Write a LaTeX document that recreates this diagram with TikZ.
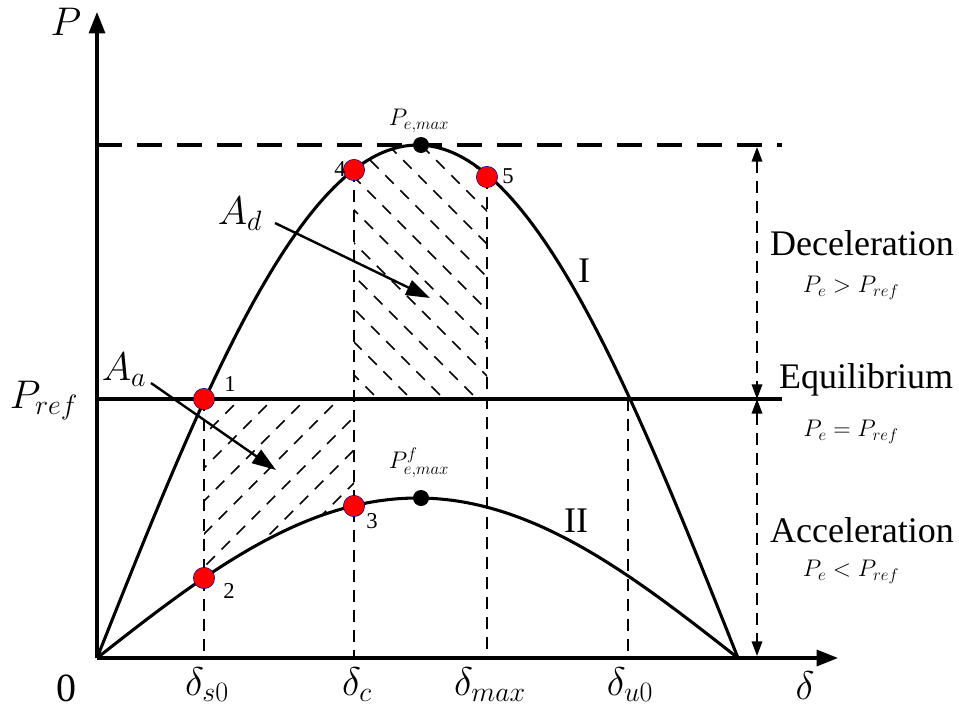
\RequirePackage{fix-cm}
\documentclass[tikz,border=0pt]{standalone}
\usepackage{fontspec}
\setmainfont{Liberation Serif}
\usetikzlibrary{arrows.meta}
\begin{document}
\begin{tikzpicture}[x=0.75pt,y=-0.75pt,
  curve/.style={line width=2.3pt},
  axisline/.style={line width=2.3pt,-{Triangle[length=16pt,width=12pt]}},
  vdash/.style={line width=1.1pt,dash pattern=on 9pt off 6pt},
  hatch/.style={line width=1.1pt,dash pattern=on 9pt off 7pt},
  topdash/.style={line width=2.4pt,dash pattern=on 19pt off 11pt},
  sidearrow/.style={line width=1.1pt,dash pattern=on 9pt off 6pt,{Triangle[length=11pt,width=8pt]}-{Triangle[length=11pt,width=8pt]}},
  pointer/.style={line width=1.8pt,-{Triangle[length=18pt,width=12pt]}},
  reddot/.style={circle,fill=red,draw=blue!50!black,line width=0.4pt,inner sep=0pt,minimum size=16pt},
  blackdot/.style={circle,fill=black,inner sep=0pt,minimum size=12pt},
  big/.style={font=\fontsize{30}{32}\selectfont,inner sep=0pt},
  small/.style={font=\fontsize{18}{20}\selectfont,inner sep=0pt},
  num/.style={font=\fontsize{17}{18}\selectfont,inner sep=0pt},
  word/.style={font=\fontsize{27}{30}\selectfont,inner sep=0pt}
]
\useasboundingbox (0,0) rectangle (959,710);

% coordinates
\coordinate (O) at (97,658);
\coordinate (Ytop) at (97,12);
\coordinate (Xend) at (838,658);
\coordinate (R0) at (97,399);
\coordinate (R1) at (782,399);
\coordinate (T0) at (97,145);
\coordinate (T1) at (782,145);

% hatching: deceleration area
\begin{scope}
  \clip (354,399) -- plot[domain=72.17:109.52,samples=40] ({97+3.5611*\x},{658-513*sin(\x)}) -- (487,399) -- cycle;
  \foreach \k in {-320,-287,...,520} {
    \draw[hatch] (\k,130) -- ++(300,300);
  }
\end{scope}
% hatching: acceleration area
\begin{scope}
  \clip (204,399) -- (354,399) -- plot[domain=72.17:30.05,samples=40] ({97+3.5611*\x},{658-160*sin(\x)}) -- cycle;
  \foreach \k in {-100,-67,...,500} {
    \draw[hatch] (\k,640) -- ++(300,-300);
  }
\end{scope}

% vertical dashed lines
\coordinate (Vs0) at (204,658);
\coordinate (Vc) at (354,658);
\coordinate (Vmax) at (487,658);
\coordinate (Vu0) at (628,658);
\coordinate (Vu0t) at (628,399);
\coordinate (Vs0t) at (204,399);
\coordinate (Vct) at (354,170);
\coordinate (Vmaxt) at (487,177);
\draw[vdash] (Vs0t) -- (Vs0);
\draw[vdash] (Vct) -- (Vc);
\draw[vdash] (Vmaxt) -- (Vmax);
\draw[vdash] (Vu0t) -- (Vu0);

% top dashed line
\draw[topdash] (T0) -- (T1);

% Pref line
\draw[curve] (R0) -- (R1);

% curves
\draw[curve] plot[domain=0:180,samples=120] ({97+3.5611*\x},{658-513*sin(\x)});
\draw[curve] plot[domain=0:180,samples=120] ({97+3.5611*\x},{658-160*sin(\x)});

% axes
\draw[axisline] (O) -- (Ytop);
\draw[axisline] (O) -- (Xend);

% right side arrows
\coordinate (S0) at (757,147);
\coordinate (S1) at (757,399);
\coordinate (S2) at (757,656);
\draw[sidearrow] (S0) -- (S1);
\draw[sidearrow] (S1) -- (S2);

% area labels and pointers
\node[big] (Ad) at (240,214) {$A_d$};
\node[big] (Aa) at (124,370) {$A_a$};
\coordinate (AdTail) at (275,223);
\coordinate (AdTip) at (430,298);
\coordinate (AaTail) at (151,383);
\coordinate (AaTip) at (276,470);
\draw[pointer] (AdTail) -- (AdTip);
\draw[pointer] (AaTail) -- (AaTip);

% points
\node[reddot] (p1) at (204,399) {};
\node[reddot] (p2) at (204,578) {};
\node[reddot] (p3) at (354,506) {};
\node[reddot] (p4) at (354,170) {};
\node[reddot] (p5) at (487,177) {};
\node[blackdot] (m1) at (421,145) {};
\node[blackdot] (m2) at (421,498) {};

\node[num] (l1) at (230,384) {1};
\node[num] (l2) at (229,591) {2};
\node[num] (l3) at (372,521) {3};
\node[num] (l4) at (340,169) {4};
\node[num] (l5) at (508,176) {5};

\node[small] (pm1) at (419,121) {$P_{e,max}$};
\node[small] (pm2) at (419,463) {$P^{f}_{e,max}$};

\node[word] (c1) at (584,271) {I};
\node[word] (c2) at (576,521) {II};

% axis labels
\node[big] (Pl) at (66,22) {$P$};
\node[big] (Prefl) at (44,401) {$P_{ref}$};
\node[word,font=\fontsize{30}{32}\selectfont] (zero) at (66,688) {0};
\node[big] (d1) at (207,685) {$\delta_{s0}$};
\node[big] (d2) at (357,685) {$\delta_{c}$};
\node[big] (d3) at (490,685) {$\delta_{max}$};
\node[big] (d4) at (630,685) {$\delta_{u0}$};
\node[big] (d5) at (805,686) {$\delta$};

% right text
\node[word] (dec) at (862,243) {Deceleration};
\node[small] (decm) at (851,288) {$P_e > P_{ref}$};
\node[word] (equ) at (866,380) {Equilibrium};
\node[small] (equm) at (851,432) {$P_e = P_{ref}$};
\node[word] (acc) at (862,530) {Acceleration};
\node[small] (accm) at (851,572) {$P_e < P_{ref}$};
\end{tikzpicture}
\end{document}
